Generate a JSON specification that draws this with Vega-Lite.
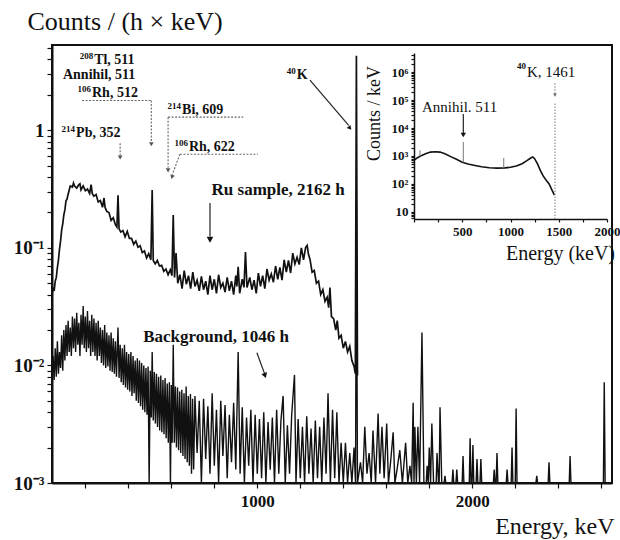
{
  "$schema": "https://vega.github.io/schema/vega-lite/v6.json",
  "width": 560,
  "height": 438,
  "autosize": {"type": "none"},
  "padding": {"left": 52, "top": 45, "right": 8, "bottom": 57},
  "background": "white",
  "config": {
    "view": {"stroke": "#111", "strokeWidth": 2},
    "axis": {"grid": false, "domainColor": "#111", "domainWidth": 2, "tickColor": "#111", "tickWidth": 1.2, "labelFont": "Liberation Serif", "titleFont": "Liberation Serif", "labelColor": "#111", "titleColor": "#111", "titleFontWeight": "normal"},
    "text": {"font": "Liberation Serif", "color": "#111"}
  },
  "datasets": {
    "ru": [
      {"e":45,"c":0.040},{"e":50,"c":0.046},{"e":55,"c":0.043},{"e":60,"c":0.052},{"e":65,"c":0.056},{"e":70,"c":0.068},{"e":75,"c":0.079},{"e":80,"c":0.098},{"e":85,"c":0.115},{"e":90,"c":0.142},{"e":95,"c":0.16},{"e":100,"c":0.19},{"e":105,"c":0.21},{"e":110,"c":0.25},{"e":115,"c":0.26},{"e":120,"c":0.285},{"e":130,"c":0.335},{"e":140,"c":0.328},{"e":145,"c":0.355},{"e":150,"c":0.335},{"e":160,"c":0.322},{"e":170,"c":0.345},{"e":175,"c":0.35},{"e":180,"c":0.31},{"e":190,"c":0.336},{"e":200,"c":0.306},{"e":210,"c":0.316},{"e":220,"c":0.29},{"e":227,"c":0.345},{"e":232,"c":0.29},{"e":240,"c":0.274},{"e":250,"c":0.284},{"e":260,"c":0.245},{"e":270,"c":0.252},{"e":280,"c":0.221},{"e":287,"c":0.265},{"e":292,"c":0.22},{"e":300,"c":0.204},{"e":310,"c":0.199},{"e":320,"c":0.171},{"e":330,"c":0.18},{"e":340,"c":0.157},{"e":347,"c":0.15},{"e":352,"c":0.28},{"e":357,"c":0.145},{"e":365,"c":0.136},{"e":375,"c":0.14},{"e":385,"c":0.124},{"e":395,"c":0.138},{"e":405,"c":0.12},{"e":415,"c":0.12},{"e":425,"c":0.107},{"e":435,"c":0.114},{"e":445,"c":0.101},{"e":455,"c":0.104},{"e":465,"c":0.091},{"e":475,"c":0.094},{"e":485,"c":0.082},{"e":495,"c":0.089},{"e":505,"c":0.079},{"e":511,"c":0.31},{"e":516,"c":0.078},{"e":525,"c":0.073},{"e":535,"c":0.078},{"e":545,"c":0.07},{"e":555,"c":0.071},{"e":565,"c":0.063},{"e":575,"c":0.066},{"e":585,"c":0.059},{"e":595,"c":0.065},{"e":603,"c":0.058},{"e":609,"c":0.19},{"e":615,"c":0.056},{"e":622,"c":0.09},{"e":630,"c":0.05},{"e":640,"c":0.059},{"e":650,"c":0.045},{"e":660,"c":0.064},{"e":670,"c":0.049},{"e":680,"c":0.058},{"e":690,"c":0.045},{"e":700,"c":0.062},{"e":710,"c":0.047},{"e":720,"c":0.053},{"e":730,"c":0.043},{"e":740,"c":0.057},{"e":750,"c":0.044},{"e":760,"c":0.052},{"e":770,"c":0.04},{"e":780,"c":0.058},{"e":790,"c":0.044},{"e":800,"c":0.054},{"e":810,"c":0.041},{"e":820,"c":0.059},{"e":830,"c":0.046},{"e":840,"c":0.05},{"e":850,"c":0.042},{"e":860,"c":0.056},{"e":870,"c":0.043},{"e":880,"c":0.052},{"e":890,"c":0.04},{"e":900,"c":0.058},{"e":905,"c":0.047},{"e":911,"c":0.069},{"e":918,"c":0.041},{"e":930,"c":0.054},{"e":938,"c":0.046},{"e":945,"c":0.092},{"e":952,"c":0.046},{"e":965,"c":0.056},{"e":975,"c":0.044},{"e":985,"c":0.053},{"e":995,"c":0.041},{"e":1005,"c":0.061},{"e":1015,"c":0.047},{"e":1025,"c":0.058},{"e":1035,"c":0.045},{"e":1045,"c":0.066},{"e":1055,"c":0.053},{"e":1065,"c":0.06},{"e":1075,"c":0.051},{"e":1085,"c":0.07},{"e":1095,"c":0.054},{"e":1105,"c":0.068},{"e":1115,"c":0.053},{"e":1125,"c":0.079},{"e":1135,"c":0.062},{"e":1145,"c":0.078},{"e":1155,"c":0.061},{"e":1165,"c":0.09},{"e":1175,"c":0.073},{"e":1185,"c":0.083},{"e":1195,"c":0.072},{"e":1205,"c":0.1},{"e":1215,"c":0.079},{"e":1225,"c":0.101},{"e":1232,"c":0.105},{"e":1238,"c":0.088},{"e":1245,"c":0.08},{"e":1255,"c":0.062},{"e":1265,"c":0.064},{"e":1275,"c":0.05},{"e":1285,"c":0.052},{"e":1295,"c":0.04},{"e":1305,"c":0.044},{"e":1315,"c":0.035},{"e":1325,"c":0.038},{"e":1332,"c":0.031},{"e":1338,"c":0.046},{"e":1345,"c":0.026},{"e":1355,"c":0.025},{"e":1365,"c":0.02},{"e":1372,"c":0.024},{"e":1380,"c":0.017},{"e":1390,"c":0.018},{"e":1400,"c":0.014},{"e":1410,"c":0.016},{"e":1420,"c":0.013},{"e":1430,"c":0.0145},{"e":1440,"c":0.011},{"e":1450,"c":0.0098},{"e":1456,"c":0.0085},{"e":1461,"c":4.3},{"e":1466,"c":0.0082}
    ],
    "bg": [
      {"e":50,"c":0.012},{"e":55,"c":0.0075},{"e":60,"c":0.014},{"e":65,"c":0.008},{"e":70,"c":0.016},{"e":75,"c":0.0085},{"e":80,"c":0.013},{"e":85,"c":0.0095},{"e":90,"c":0.018},{"e":95,"c":0.009},{"e":100,"c":0.02},{"e":105,"c":0.011},{"e":110,"c":0.022},{"e":115,"c":0.012},{"e":120,"c":0.024},{"e":125,"c":0.013},{"e":130,"c":0.021},{"e":135,"c":0.012},{"e":140,"c":0.026},{"e":145,"c":0.014},{"e":150,"c":0.025},{"e":155,"c":0.013},{"e":160,"c":0.028},{"e":165,"c":0.015},{"e":170,"c":0.023},{"e":175,"c":0.012},{"e":180,"c":0.027},{"e":185,"c":0.015},{"e":190,"c":0.032},{"e":195,"c":0.014},{"e":200,"c":0.026},{"e":205,"c":0.013},{"e":210,"c":0.029},{"e":215,"c":0.014},{"e":220,"c":0.024},{"e":225,"c":0.012},{"e":230,"c":0.027},{"e":235,"c":0.013},{"e":240,"c":0.025},{"e":245,"c":0.012},{"e":250,"c":0.023},{"e":255,"c":0.011},{"e":260,"c":0.024},{"e":265,"c":0.012},{"e":270,"c":0.021},{"e":275,"c":0.0105},{"e":280,"c":0.02},{"e":285,"c":0.01},{"e":290,"c":0.022},{"e":295,"c":0.0095},{"e":300,"c":0.019},{"e":305,"c":0.0098},{"e":310,"c":0.018},{"e":315,"c":0.009},{"e":320,"c":0.019},{"e":325,"c":0.0088},{"e":330,"c":0.017},{"e":335,"c":0.0085},{"e":340,"c":0.016},{"e":345,"c":0.008},{"e":352,"c":0.021},{"e":357,"c":0.0078},{"e":362,"c":0.015},{"e":367,"c":0.0072},{"e":372,"c":0.014},{"e":377,"c":0.0068},{"e":382,"c":0.015},{"e":387,"c":0.0065},{"e":392,"c":0.013},{"e":397,"c":0.0062},{"e":402,"c":0.0125},{"e":407,"c":0.006},{"e":412,"c":0.013},{"e":417,"c":0.0055},{"e":422,"c":0.012},{"e":427,"c":0.0058},{"e":432,"c":0.011},{"e":437,"c":0.005},{"e":442,"c":0.0115},{"e":447,"c":0.0048},{"e":452,"c":0.011},{"e":457,"c":0.0045},{"e":462,"c":0.0105},{"e":467,"c":0.0042},{"e":472,"c":0.01},{"e":477,"c":0.004},{"e":482,"c":0.0095},{"e":487,"c":0.0038},{"e":492,"c":0.0098},{"e":497,"c":0.001},{"e":502,"c":0.009},{"e":507,"c":0.0036},{"e":511,"c":0.013},{"e":516,"c":0.0034},{"e":521,"c":0.0088},{"e":526,"c":0.0032},{"e":531,"c":0.0085},{"e":536,"c":0.003},{"e":541,"c":0.008},{"e":546,"c":0.0028},{"e":551,"c":0.0082},{"e":556,"c":0.0027},{"e":561,"c":0.0075},{"e":566,"c":0.0026},{"e":571,"c":0.0078},{"e":576,"c":0.0024},{"e":581,"c":0.007},{"e":586,"c":0.0022},{"e":591,"c":0.0072},{"e":596,"c":0.001},{"e":600,"c":0.0068},{"e":604,"c":0.0022},{"e":609,"c":0.015},{"e":614,"c":0.0022},{"e":619,"c":0.0066},{"e":624,"c":0.002},{"e":629,"c":0.0065},{"e":634,"c":0.0019},{"e":639,"c":0.006},{"e":644,"c":0.0018},{"e":649,"c":0.0062},{"e":654,"c":0.0017},{"e":659,"c":0.0058},{"e":664,"c":0.0016},{"e":669,"c":0.0066},{"e":674,"c":0.0015},{"e":679,"c":0.0055},{"e":684,"c":0.0014},{"e":689,"c":0.0057},{"e":694,"c":0.0012},{"e":699,"c":0.0052},{"e":704,"c":0.0013},{"e":710,"c":0.0055},{"e":720,"c":0.0018},{"e":730,"c":0.005},{"e":740,"c":0.001},{"e":750,"c":0.0052},{"e":760,"c":0.0016},{"e":770,"c":0.0045},{"e":780,"c":0.0012},{"e":790,"c":0.0058},{"e":800,"c":0.0014},{"e":810,"c":0.0042},{"e":820,"c":0.001},{"e":830,"c":0.005},{"e":840,"c":0.0017},{"e":850,"c":0.0046},{"e":860,"c":0.0011},{"e":870,"c":0.0038},{"e":880,"c":0.0015},{"e":890,"c":0.0048},{"e":900,"c":0.0013},{"e":911,"c":0.013},{"e":920,"c":0.0012},{"e":930,"c":0.0044},{"e":940,"c":0.001},{"e":950,"c":0.0036},{"e":960,"c":0.0014},{"e":970,"c":0.0042},{"e":980,"c":0.001},{"e":990,"c":0.0038},{"e":1000,"c":0.0012},{"e":1010,"c":0.0035},{"e":1020,"c":0.0011},{"e":1030,"c":0.004},{"e":1040,"c":0.001},{"e":1050,"c":0.0033},{"e":1060,"c":0.0013},{"e":1070,"c":0.0036},{"e":1080,"c":0.001},{"e":1090,"c":0.0042},{"e":1100,"c":0.0012},{"e":1110,"c":0.0034},{"e":1120,"c":0.0055},{"e":1130,"c":0.001},{"e":1140,"c":0.0031},{"e":1150,"c":0.0012},{"e":1160,"c":0.0038},{"e":1173,"c":0.0083},{"e":1180,"c":0.001},{"e":1190,"c":0.0035},{"e":1200,"c":0.0011},{"e":1210,"c":0.003},{"e":1220,"c":0.001},{"e":1230,"c":0.0037},{"e":1240,"c":0.0012},{"e":1250,"c":0.0029},{"e":1260,"c":0.001},{"e":1270,"c":0.0034},{"e":1280,"c":0.0011},{"e":1290,"c":0.003},{"e":1300,"c":0.001},{"e":1310,"c":0.0036},{"e":1320,"c":0.0012},{"e":1329,"c":0.0058},{"e":1340,"c":0.001},{"e":1350,"c":0.0042},{"e":1360,"c":0.0011},{"e":1370,"c":0.004},{"e":1380,"c":0.001},{"e":1390,"c":0.0022},{"e":1400,"c":0.001},{"e":1410,"c":0.0022},{"e":1420,"c":0.001},{"e":1430,"c":0.0018},{"e":1440,"c":0.001},{"e":1450,"c":0.002},{"e":1457,"c":0.001},{"e":1461,"c":0.25},{"e":1466,"c":0.001},{"e":1480,"c":0.0015},{"e":1490,"c":0.001},{"e":1500,"c":0.003},{"e":1510,"c":0.0012},{"e":1520,"c":0.0018},{"e":1530,"c":0.001},{"e":1538,"c":0.0028},{"e":1550,"c":0.001},{"e":1562,"c":0.0039},{"e":1570,"c":0.0012},{"e":1580,"c":0.003},{"e":1590,"c":0.0011},{"e":1602,"c":0.0032},{"e":1610,"c":0.001},{"e":1620,"c":0.0015},{"e":1632,"c":0.0027},{"e":1640,"c":0.001},{"e":1650,"c":0.0013},{"e":1663,"c":0.0019},{"e":1675,"c":0.001},{"e":1690,"c":0.0022},{"e":1700,"c":0.001},{"e":1710,"c":0.0014},{"e":1718,"c":0.001},{"e":1725,"c":0.0048},{"e":1729,"c":0.001},{"e":1733,"c":0.003},{"e":1740,"c":0.001},{"e":1747,"c":0.003},{"e":1755,"c":0.001},{"e":1766,"c":0.019},{"e":1775,"c":0.001},{"e":1786,"c":0.001},{"e":1790,"c":0.0014},{"e":1795,"c":0.001},{"e":1800,"c":0.002},{"e":1806,"c":0.001},{"e":1812,"c":0.0032},{"e":1820,"c":0.001},{"e":1832,"c":0.001},{"e":1836,"c":0.0018},{"e":1843,"c":0.001},{"e":1846,"c":0.001},{"e":1850,"c":0.0044},{"e":1858,"c":0.001},{"e":1869,"c":0.001},{"e":1873,"c":0.00115},{"e":1877,"c":0.001},{"e":1906,"c":0.001},{"e":1910,"c":0.0013},{"e":1914,"c":0.001},{"e":1924,"c":0.001},{"e":1928,"c":0.0013},{"e":1932,"c":0.001},{"e":1953,"c":0.001},{"e":1957,"c":0.0017},{"e":1961,"c":0.001},{"e":1986,"c":0.001},{"e":1990,"c":0.0024},{"e":1994,"c":0.001},{"e":1999,"c":0.001},{"e":2003,"c":0.0021},{"e":2007,"c":0.001},{"e":2018,"c":0.001},{"e":2022,"c":0.0016},{"e":2026,"c":0.001},{"e":2036,"c":0.001},{"e":2040,"c":0.0016},{"e":2044,"c":0.001},{"e":2098,"c":0.001},{"e":2102,"c":0.0013},{"e":2106,"c":0.001},{"e":2111,"c":0.001},{"e":2115,"c":0.0018},{"e":2119,"c":0.001},{"e":2158,"c":0.001},{"e":2162,"c":0.0013},{"e":2166,"c":0.001},{"e":2181,"c":0.001},{"e":2185,"c":0.002},{"e":2189,"c":0.001},{"e":2200,"c":0.001},{"e":2204,"c":0.0043},{"e":2208,"c":0.001},{"e":2296,"c":0.001},{"e":2300,"c":0.00115},{"e":2304,"c":0.001},{"e":2353,"c":0.001},{"e":2357,"c":0.0015},{"e":2361,"c":0.001},{"e":2451,"c":0.001},{"e":2455,"c":0.0017},{"e":2459,"c":0.001},{"e":2610,"c":0.001},{"e":2614,"c":0.0072},{"e":2618,"c":0.001},{"e":2650,"c":0.001}
    ],
    "notes": [
      {"k":"s","m":"208","t":"Tl, 511","e":241,"c":3.93},
      {"k":"s","m":"","t":"Annihil, 511","e":96,"c":2.95},
      {"k":"s","m":"106","t":"Rh, 512","e":231,"c":2.08},
      {"k":"s","m":"214","t":"Bi, 609","e":650,"c":1.48},
      {"k":"s","m":"106","t":"Rh, 622","e":682,"c":0.717},
      {"k":"s","m":"214","t":"Pb, 352","e":157,"c":0.943},
      {"k":"s","m":"40","t":"K","e":1184,"c":2.93},
      {"k":"b","m":"","t":"Ru sample, 2162 h","e":1097,"c":0.309},
      {"k":"b","m":"","t":"Background, 1046 h","e":808,"c":0.0174}
    ],
    "mrules": [
      {"k":"dot","e":185,"c":1.79,"e2":507,"c2":1.79},
      {"k":"dot","e":507,"c":1.79,"e2":507,"c2":0.8},
      {"k":"dot","e":585,"c":1.29,"e2":934,"c2":1.29},
      {"k":"dot","e":585,"c":1.29,"e2":585,"c2":0.48},
      {"k":"dot","e":640,"c":0.625,"e2":1003,"c2":0.625},
      {"k":"dot","e":640,"c":0.625,"e2":605,"c2":0.42},
      {"k":"dot","e":362,"c":0.775,"e2":362,"c2":0.61},
      {"k":"solid","e":1245,"c":2.66,"e2":1425,"c2":1.1},
      {"k":"solid","e":780,"c":0.24,"e2":780,"c2":0.125},
      {"k":"solid","e":998,"c":0.0128,"e2":1033,"c2":0.0086}
    ],
    "mheads": [
      {"k":"gdown","e":507,"c":0.76},
      {"k":"gdown","e":585,"c":0.455},
      {"k":"gdown","e":362,"c":0.585},
      {"k":"gdiag","e":603,"c":0.40},
      {"k":"bdown","e":780,"c":0.117},
      {"k":"bk","e":1431,"c":1.04},
      {"k":"bbg","e":1036,"c":0.0082}
    ],
    "inset": [
      {"e":0,"c":720},{"e":40,"c":880},{"e":80,"c":1050},{"e":120,"c":1200},{"e":170,"c":1380},{"e":220,"c":1420},{"e":270,"c":1380},{"e":320,"c":1200},{"e":380,"c":950},{"e":440,"c":760},{"e":500,"c":600},{"e":560,"c":520},{"e":620,"c":470},{"e":700,"c":410},{"e":780,"c":380},{"e":860,"c":370},{"e":940,"c":375},{"e":1000,"c":395},{"e":1060,"c":440},{"e":1120,"c":530},{"e":1170,"c":680},{"e":1210,"c":850},{"e":1230,"c":930},{"e":1250,"c":800},{"e":1280,"c":520},{"e":1310,"c":300},{"e":1340,"c":190},{"e":1370,"c":135},{"e":1400,"c":100},{"e":1430,"c":60},{"e":1455,"c":40}
    ],
    "irules": [
      {"k":"gray","e":511,"c":590,"e2":511,"c2":3160},
      {"k":"gray","e":930,"c":372,"e2":930,"c2":850},
      {"k":"gray","e":62,"c":980,"e2":62,"c2":1600},
      {"k":"dot","e":1461,"c":5.6,"e2":1461,"c2":78000},
      {"k":"dot","e":1461,"c":400000,"e2":1461,"c2":170000},
      {"k":"black","e":511,"c":31600,"e2":511,"c2":6500}
    ],
    "iheads": [
      {"k":"black","e":511,"c":5600},
      {"k":"gray","e":1461,"c":150000}
    ],
    "inotes": [
      {"m":"","t":"Annihil. 511","e":83,"c":56000},
      {"m":"40","t":"K, 1461","e":1171,"c":1000000}
    ]
  },
  "layer": [
    {
      "layer": [
        {
          "data": {"name": "bg"},
          "mark": {"type": "line", "color": "#111", "strokeWidth": 1.4, "clip": true},
          "encoding": {
            "x": {"field": "e", "type": "quantitative",
              "scale": {"domain": [45, 2650], "nice": false, "zero": false},
              "axis": {"values": [200,400,600,800,1000,1200,1400,1600,1800,2000,2200,2400,2600],
                "labelExpr": "datum.value == 1000 || datum.value == 2000 ? format(datum.value, 'd') : ''",
                "tickSize": 5, "labelFontSize": 17, "labelFontWeight": "bold", "labelPadding": 5, "labelFlush": false, "labelOverlap": false,
                "title": "Energy, keV", "titleFontSize": 24, "titleAnchor": "end", "titleAlign": "right", "titleX": 562, "titleY": 50, "titleBaseline": "alphabetic"}},
            "y": {"field": "c", "type": "quantitative",
              "scale": {"type": "log", "domain": [0.001, 5.3], "nice": false},
              "axis": {"values": [0.001,0.002,0.003,0.004,0.005,0.006,0.007,0.008,0.009,0.01,0.02,0.03,0.04,0.05,0.06,0.07,0.08,0.09,0.1,0.2,0.3,0.4,0.5,0.6,0.7,0.8,0.9,1,2,3,4,5],
                "labelExpr": "datum.value == 1 ? '1' : datum.value == 0.1 ? '10⁻¹' : datum.value == 0.01 ? '10⁻²' : datum.value == 0.001 ? '10⁻³' : ''",
                "tickSize": 5, "labelFontSize": 19, "labelFontWeight": "bold", "labelPadding": 3, "labelOverlap": false, "labelFlush": false,
                "title": "Counts / (h × keV)", "titleAngle": 0, "titleAlign": "left", "titleBaseline": "alphabetic", "titleX": -25, "titleY": -16, "titleFontSize": 26}}
          }
        },
        {
          "data": {"name": "ru"},
          "mark": {"type": "line", "color": "#111", "strokeWidth": 1.7, "clip": true},
          "encoding": {
            "x": {"field": "e", "type": "quantitative"},
            "y": {"field": "c", "type": "quantitative"}
          }
        },
        {
          "data": {"name": "mrules"},
          "transform": [{"filter": "datum.k == 'dot'"}],
          "mark": {"type": "rule", "color": "#666", "strokeWidth": 1.1, "strokeDash": [2, 1.5]},
          "encoding": {
            "x": {"field": "e", "type": "quantitative"}, "x2": {"field": "e2"},
            "y": {"field": "c", "type": "quantitative"}, "y2": {"field": "c2"}
          }
        },
        {
          "data": {"name": "mrules"},
          "transform": [{"filter": "datum.k == 'solid'"}],
          "mark": {"type": "rule", "color": "#222", "strokeWidth": 1.2},
          "encoding": {
            "x": {"field": "e", "type": "quantitative"}, "x2": {"field": "e2"},
            "y": {"field": "c", "type": "quantitative"}, "y2": {"field": "c2"}
          }
        },
        {
          "data": {"name": "mheads"},
          "transform": [{"filter": "datum.k == 'gdown'"}],
          "mark": {"type": "point", "shape": "triangle-down", "filled": true, "color": "#555", "size": 22, "opacity": 1},
          "encoding": {"x": {"field": "e", "type": "quantitative"}, "y": {"field": "c", "type": "quantitative"}}
        },
        {
          "data": {"name": "mheads"},
          "transform": [{"filter": "datum.k == 'gdiag'"}],
          "mark": {"type": "point", "shape": "triangle-down", "filled": true, "color": "#555", "size": 22, "opacity": 1, "angle": 20},
          "encoding": {"x": {"field": "e", "type": "quantitative"}, "y": {"field": "c", "type": "quantitative"}}
        },
        {
          "data": {"name": "mheads"},
          "transform": [{"filter": "datum.k == 'bdown'"}],
          "mark": {"type": "point", "shape": "triangle-down", "filled": true, "color": "#111", "size": 45, "opacity": 1},
          "encoding": {"x": {"field": "e", "type": "quantitative"}, "y": {"field": "c", "type": "quantitative"}}
        },
        {
          "data": {"name": "mheads"},
          "transform": [{"filter": "datum.k == 'bk'"}],
          "mark": {"type": "point", "shape": "triangle-down", "filled": true, "color": "#111", "size": 25, "opacity": 1, "angle": 320},
          "encoding": {"x": {"field": "e", "type": "quantitative"}, "y": {"field": "c", "type": "quantitative"}}
        },
        {
          "data": {"name": "mheads"},
          "transform": [{"filter": "datum.k == 'bbg'"}],
          "mark": {"type": "point", "shape": "triangle-down", "filled": true, "color": "#111", "size": 35, "opacity": 1, "angle": 340},
          "encoding": {"x": {"field": "e", "type": "quantitative"}, "y": {"field": "c", "type": "quantitative"}}
        },
        {
          "data": {"name": "notes"},
          "transform": [{"filter": "datum.k == 's'"}],
          "mark": {"type": "text", "font": "Liberation Serif", "fontWeight": "bold", "fontSize": 14, "color": "#111", "align": "left", "baseline": "middle"},
          "encoding": {"x": {"field": "e", "type": "quantitative"}, "y": {"field": "c", "type": "quantitative"}, "text": {"field": "t"}}
        },
        {
          "data": {"name": "notes"},
          "transform": [{"filter": "datum.k == 's'"}],
          "mark": {"type": "text", "font": "Liberation Serif", "fontWeight": "bold", "fontSize": 9, "color": "#111", "align": "right", "baseline": "middle", "dy": -4, "dx": -1},
          "encoding": {"x": {"field": "e", "type": "quantitative"}, "y": {"field": "c", "type": "quantitative"}, "text": {"field": "m"}}
        },
        {
          "data": {"name": "notes"},
          "transform": [{"filter": "datum.k == 'b'"}],
          "mark": {"type": "text", "font": "Liberation Serif", "fontWeight": "bold", "fontSize": 17, "color": "#111", "align": "center", "baseline": "middle"},
          "encoding": {"x": {"field": "e", "type": "quantitative"}, "y": {"field": "c", "type": "quantitative"}, "text": {"field": "t"}}
        }
      ]
    },
    {
      "layer": [
        {
          "data": {"name": "inset"},
          "mark": {"type": "line", "color": "#111", "strokeWidth": 1.6},
          "encoding": {
            "x": {"field": "e", "type": "quantitative",
              "scale": {"domain": [0, 2000], "range": [362, 555], "nice": false, "zero": false},
              "axis": {"orient": "bottom", "offset": -264, "values": [0,250,500,750,1000,1250,1500,1750,2000],
                "labelExpr": "datum.value > 0 && datum.value % 500 == 0 ? format(datum.value, 'd') : ''",
                "tickSize": 3, "labelFontSize": 13, "labelFontWeight": "bold", "labelPadding": 3, "labelFlush": false, "labelOverlap": false, "domainWidth": 1.5,
                "title": "Energy (keV)", "titleFontSize": 20, "titleX": 508, "titleY": 34, "titleBaseline": "middle", "titleAlign": "center"}},
            "y": {"field": "c", "type": "quantitative",
              "scale": {"type": "log", "domain": [5.6, 4800000], "range": [174, 8], "nice": false},
              "axis": {"orient": "left", "offset": -362,
                "values": [6,7,8,9,10,20,30,40,50,60,70,80,90,100,200,300,400,500,600,700,800,900,1000,2000,3000,4000,5000,6000,7000,8000,9000,10000,20000,30000,40000,50000,60000,70000,80000,90000,100000,200000,300000,400000,500000,600000,700000,800000,900000,1000000,2000000,3000000,4000000],
                "labelExpr": "datum.value == 10 ? '10' : datum.value == 100 ? '10²' : datum.value == 1000 ? '10³' : datum.value == 10000 ? '10⁴' : datum.value == 100000 ? '10⁵' : datum.value == 1000000 ? '10⁶' : ''",
                "tickSize": 3, "labelFontSize": 13, "labelFontWeight": "bold", "labelPadding": 3, "labelFlush": false, "labelOverlap": false, "domainWidth": 1.5,
                "title": "Counts / keV", "titleFontSize": 18, "titleX": -40, "titleY": 68, "titleAlign": "center", "titleBaseline": "middle"}}
          }
        },
        {
          "mark": {"type": "rect", "filled": false, "stroke": "#222", "strokeWidth": 1.5},
          "encoding": {
            "x": {"datum": 0, "type": "quantitative"}, "x2": {"datum": 2000},
            "y": {"datum": 5.6, "type": "quantitative"}, "y2": {"datum": 4800000}
          }
        },
        {
          "data": {"name": "irules"},
          "transform": [{"filter": "datum.k == 'gray'"}],
          "mark": {"type": "rule", "color": "#777", "strokeWidth": 1},
          "encoding": {"x": {"field": "e", "type": "quantitative"}, "x2": {"field": "e2"}, "y": {"field": "c", "type": "quantitative"}, "y2": {"field": "c2"}}
        },
        {
          "data": {"name": "irules"},
          "transform": [{"filter": "datum.k == 'dot'"}],
          "mark": {"type": "rule", "color": "#777", "strokeWidth": 1, "strokeDash": [1.5, 1.5]},
          "encoding": {"x": {"field": "e", "type": "quantitative"}, "x2": {"field": "e2"}, "y": {"field": "c", "type": "quantitative"}, "y2": {"field": "c2"}}
        },
        {
          "data": {"name": "irules"},
          "transform": [{"filter": "datum.k == 'black'"}],
          "mark": {"type": "rule", "color": "#222", "strokeWidth": 1.2},
          "encoding": {"x": {"field": "e", "type": "quantitative"}, "x2": {"field": "e2"}, "y": {"field": "c", "type": "quantitative"}, "y2": {"field": "c2"}}
        },
        {
          "data": {"name": "iheads"},
          "transform": [{"filter": "datum.k == 'black'"}],
          "mark": {"type": "point", "shape": "triangle-down", "filled": true, "color": "#111", "size": 28, "opacity": 1},
          "encoding": {"x": {"field": "e", "type": "quantitative"}, "y": {"field": "c", "type": "quantitative"}}
        },
        {
          "data": {"name": "iheads"},
          "transform": [{"filter": "datum.k == 'gray'"}],
          "mark": {"type": "point", "shape": "triangle-down", "filled": true, "color": "#666", "size": 14, "opacity": 1},
          "encoding": {"x": {"field": "e", "type": "quantitative"}, "y": {"field": "c", "type": "quantitative"}}
        },
        {
          "data": {"name": "inotes"},
          "mark": {"type": "text", "font": "Liberation Serif", "fontSize": 15, "color": "#111", "align": "left", "baseline": "middle"},
          "encoding": {"x": {"field": "e", "type": "quantitative"}, "y": {"field": "c", "type": "quantitative"}, "text": {"field": "t"}}
        },
        {
          "data": {"name": "inotes"},
          "mark": {"type": "text", "font": "Liberation Serif", "fontWeight": "bold", "fontSize": 9, "color": "#111", "align": "right", "baseline": "middle", "dy": -6, "dx": -1},
          "encoding": {"x": {"field": "e", "type": "quantitative"}, "y": {"field": "c", "type": "quantitative"}, "text": {"field": "m"}}
        }
      ]
    }
  ],
  "resolve": {"scale": {"x": "independent", "y": "independent"}, "axis": {"x": "independent", "y": "independent"}}
}
